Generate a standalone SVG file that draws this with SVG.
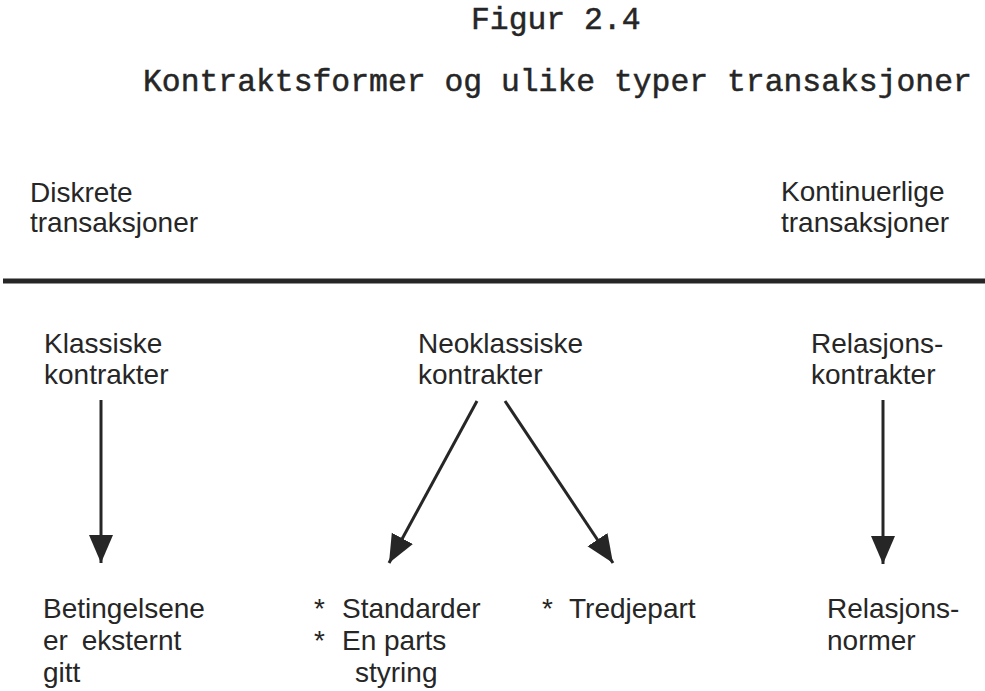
<svg xmlns="http://www.w3.org/2000/svg" width="985" height="691" viewBox="0 0 985 691">
<style>
.t{font-family:"Liberation Sans",Arial,sans-serif;font-size:28px;fill:#262626}
.m{font-family:"Liberation Mono","Courier New",monospace;font-size:31.4px;fill:#262626;stroke:#262626;stroke-width:0.5}
.c{stroke:#262626;stroke-width:3;fill:none}
</style>
<defs>
<marker id="ah" markerUnits="userSpaceOnUse" markerWidth="30" markerHeight="26" refX="28" refY="12" orient="auto" viewBox="0 0 30 24">
<path d="M0,0 L28,12 L0,24 Z" fill="#262626"/>
</marker>
</defs>
<rect width="985" height="691" fill="#ffffff"/>
<g id="title">
<text class="m" x="471" y="29">Figur 2.4</text>
<text class="m" x="143" y="91">Kontraktsformer og ulike typer transaksjoner</text>
</g>
<g id="diskrete"><text class="t" x="30" y="202">Diskrete</text><text class="t" x="30" y="232">transaksjoner</text></g>
<g id="kontinuerlige"><text class="t" x="781" y="201">Kontinuerlige</text><text class="t" x="781" y="232">transaksjoner</text></g>
<g id="divider"><line x1="3" y1="281" x2="985" y2="281" stroke="#262626" stroke-width="5"/></g>
<g id="klassiske"><text class="t" x="44" y="353">Klassiske</text><text class="t" x="44" y="384">kontrakter</text></g>
<g id="neoklassiske"><text class="t" x="418" y="353">Neoklassiske</text><text class="t" x="418" y="384">kontrakter</text></g>
<g id="relasjonskontrakter"><text class="t" x="811" y="353">Relasjons-</text><text class="t" x="811" y="384">kontrakter</text></g>
<g id="betingelsene"><text class="t" x="43" y="618">Betingelsene</text><text class="t" x="43" y="650" word-spacing="6">er eksternt</text><text class="t" x="43" y="682">gitt</text></g>
<g id="standarder"><text class="t" y="618"><tspan x="314">*</tspan><tspan x="342">Standarder</tspan></text><text class="t" y="650"><tspan x="314">*</tspan><tspan x="342">En parts</tspan></text><text class="t" x="355" y="682">styring</text></g>
<g id="tredjepart"><text class="t" y="618"><tspan x="542">*</tspan><tspan x="569">Tredjepart</tspan></text></g>
<g id="relasjonsnormer"><text class="t" x="827" y="618">Relasjons-</text><text class="t" x="827" y="650">normer</text></g>
<g id="connectors">
<line class="c" x1="101" y1="400" x2="101" y2="563" marker-end="url(#ah)"/>
<line class="c" x1="883" y1="400" x2="883" y2="564" marker-end="url(#ah)"/>
<line class="c" x1="477" y1="401" x2="389" y2="563" marker-end="url(#ah)"/>
<line class="c" x1="505" y1="401" x2="613" y2="563" marker-end="url(#ah)"/>
</g>
</svg>
